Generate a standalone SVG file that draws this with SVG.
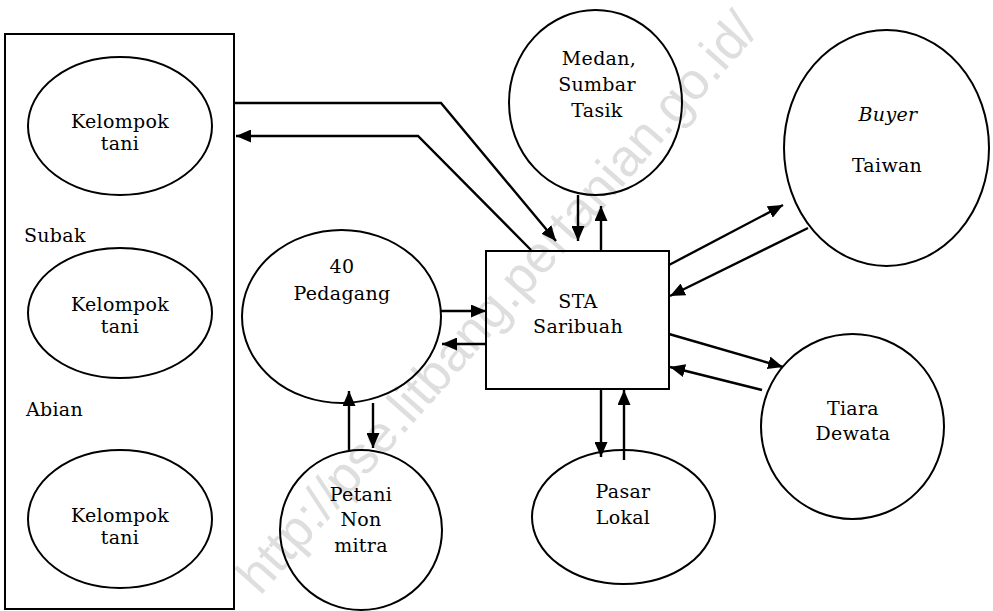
<svg xmlns="http://www.w3.org/2000/svg" width="993" height="611" viewBox="0 0 993 611">
  <style>
    .shape { fill: none; stroke: #000; stroke-width: 2; }
    .lbl { font-family: "DejaVu Serif", "Liberation Serif", serif; font-size: 19px; fill: #000; text-anchor: middle; letter-spacing: 0.3px; }
    .side { text-anchor: start; }
    .it { font-style: italic; }
    .flow { fill: none; stroke: #000; stroke-width: 2.4; marker-end: url(#head); }
    .wm { font-family: "Liberation Sans", Arial, sans-serif; font-size: 52px; fill: #dedede; text-anchor: middle; }
  </style>
  <defs>
    <marker id="head" viewBox="0 0 15 13" refX="15" refY="6.5" markerWidth="15" markerHeight="13" markerUnits="userSpaceOnUse" orient="auto">
      <path d="M0,0 L15,6.5 L0,13 Z" fill="#000"/>
    </marker>
  </defs>
  <rect width="993" height="611" fill="#fff"/>

  <!-- site watermark -->
  <text class="wm" transform="translate(510,314) rotate(-48.5)">http://pse.litbang.pertanian.go.id/</text>

  <!-- Subak / Abian frame with farmer groups -->
  <g id="subak-abian">
    <rect class="shape" x="5" y="34" width="229" height="575"/>
    <text class="lbl side" x="24" y="242">Subak</text>
    <text class="lbl side" x="26" y="416">Abian</text>
  </g>
  <g id="kelompok-1">
    <ellipse class="shape" cx="120" cy="126" rx="92" ry="69"/>
    <text class="lbl" x="120" y="128">Kelompok</text>
    <text class="lbl" x="120" y="150">tani</text>
  </g>
  <g id="kelompok-2">
    <ellipse class="shape" cx="120" cy="313" rx="92" ry="65"/>
    <text class="lbl" x="120" y="311">Kelompok</text>
    <text class="lbl" x="120" y="333">tani</text>
  </g>
  <g id="kelompok-3">
    <ellipse class="shape" cx="120" cy="519" rx="92" ry="69"/>
    <text class="lbl" x="120" y="522">Kelompok</text>
    <text class="lbl" x="120" y="544">tani</text>
  </g>

  <g id="pedagang">
    <ellipse class="shape" cx="341.5" cy="316.5" rx="99.5" ry="86.5"/>
    <text class="lbl" x="342" y="273">40</text>
    <text class="lbl" x="342" y="300">Pedagang</text>
  </g>

  <g id="petani">
    <ellipse class="shape" cx="361" cy="530" rx="81" ry="80"/>
    <text class="lbl" x="361" y="501">Petani</text>
    <text class="lbl" x="361" y="526">Non</text>
    <text class="lbl" x="361" y="552">mitra</text>
  </g>

  <g id="sta">
    <rect class="shape" x="486" y="251" width="183" height="138"/>
    <text class="lbl" x="578" y="308">STA</text>
    <text class="lbl" x="578" y="333">Saribuah</text>
  </g>

  <g id="medan">
    <ellipse class="shape" cx="595.5" cy="102.5" rx="86.5" ry="92.5"/>
    <text class="lbl" x="599" y="65">Medan,</text>
    <text class="lbl" x="597" y="91">Sumbar</text>
    <text class="lbl" x="597" y="117">Tasik</text>
  </g>

  <g id="buyer">
    <ellipse class="shape" cx="886.5" cy="148" rx="102.5" ry="118"/>
    <text class="lbl it" x="888" y="121">Buyer</text>
    <text class="lbl" x="887" y="172">Taiwan</text>
  </g>

  <g id="tiara">
    <ellipse class="shape" cx="852.5" cy="426.5" rx="91.5" ry="92.5"/>
    <text class="lbl" x="853" y="415">Tiara</text>
    <text class="lbl" x="853" y="440">Dewata</text>
  </g>

  <g id="pasar">
    <ellipse class="shape" cx="623.5" cy="517" rx="91.5" ry="67"/>
    <text class="lbl" x="623" y="498">Pasar</text>
    <text class="lbl" x="623" y="524">Lokal</text>
  </g>

  <!-- flows -->
  <g id="connectors">
    <path class="flow" d="M234,103 L441,103 L556,241"/>
    <path class="flow" d="M531,250 L418,136 L236,136"/>
    <path class="flow" d="M578,195 L578,241"/>
    <path class="flow" d="M601,251 L601,206"/>
    <path class="flow" d="M669,265 L783,205"/>
    <path class="flow" d="M808,228 L670,296"/>
    <path class="flow" d="M669,334 L783,367"/>
    <path class="flow" d="M762,390 L670,367"/>
    <path class="flow" d="M601,389 L601,457"/>
    <path class="flow" d="M624,460 L624,390"/>
    <path class="flow" d="M441,311 L486,311"/>
    <path class="flow" d="M486,344 L442,344"/>
    <path class="flow" d="M349,450 L349,391"/>
    <path class="flow" d="M373,403 L373,448"/>
  </g>
</svg>
